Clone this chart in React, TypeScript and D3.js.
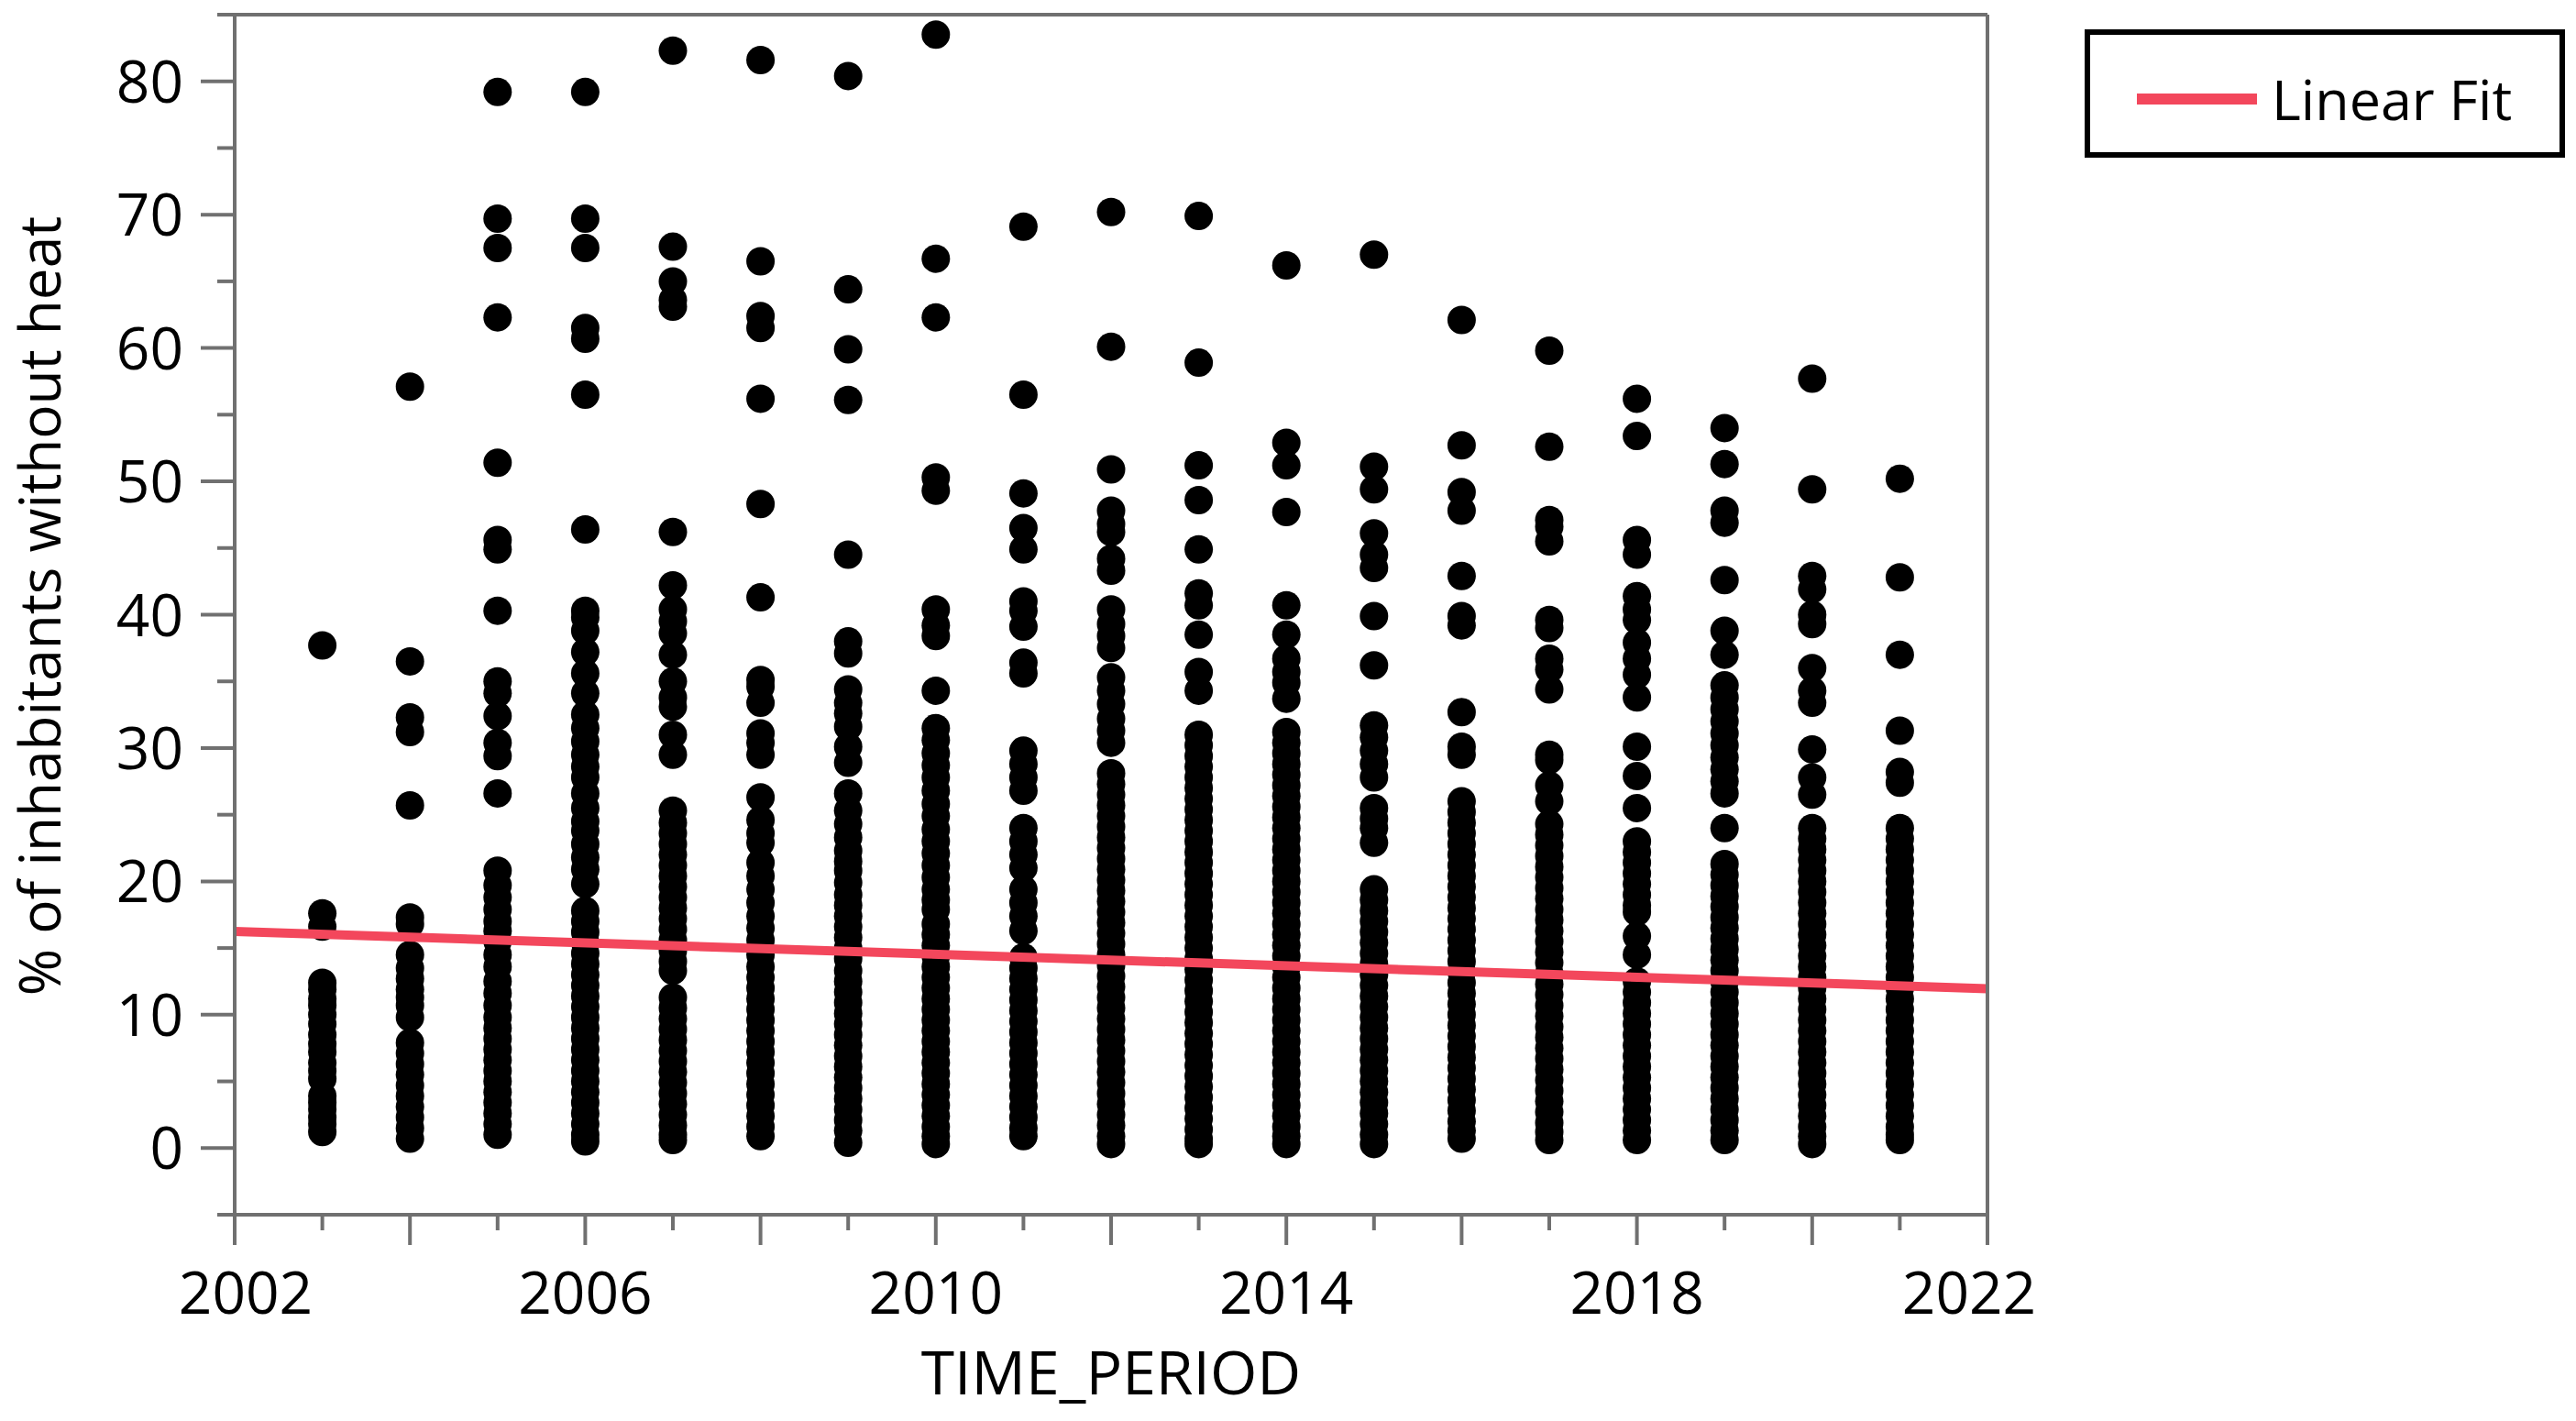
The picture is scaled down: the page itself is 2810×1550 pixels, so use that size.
import * as d3 from 'd3';

// values, one array per year (descending)
const y2003 = [37.7, 17.6, 16.6, 12.4, 11.9, 11.2, 10.7, 10.0, 9.3, 8.5, 7.8, 7.2, 6.4, 5.8, 5.2, 3.9, 3.4, 2.9, 2.3, 1.8, 1.2];
const y2004 = [57.1, 36.5, 32.3, 31.2, 25.7, 17.3, 16.8, 14.5, 13.5, 12.7, 11.9, 11.3, 10.7, 9.8, 7.9, 7.1, 6.3, 5.5, 4.7, 3.9, 3.1, 2.3, 1.5, 0.7];
const y2005 = [79.2, 69.7, 67.5, 62.3, 51.4, 45.6, 44.9, 40.3, 35.0, 34.1, 32.4, 30.4, 29.4, 26.6, 20.8, 19.7, 18.8, 17.9, 17.0, 16.3, 15.5, 14.5, 13.6, 12.5, 11.6, 10.7, 9.8, 9.0, 8.2, 7.4, 6.6, 5.8, 5.0, 4.2, 3.4, 2.6, 1.8, 1.0];
const y2006 = [79.2, 69.7, 67.5, 61.5, 60.7, 56.5, 46.4, 40.3, 39.8, 38.8, 37.2, 35.6, 34.1, 32.5, 31.5, 30.5, 29.5, 28.6, 27.8, 26.6, 25.5, 24.5, 23.8, 22.8, 21.8, 20.9, 19.8, 17.8, 17.0, 16.2, 15.4, 14.6, 13.8, 13.0, 12.2, 11.4, 10.6, 9.8, 9.0, 8.2, 7.4, 6.6, 5.8, 5.0, 4.2, 3.4, 2.6, 1.8, 1.0, 0.5];
const y2007 = [82.3, 67.6, 65.0, 63.6, 63.1, 46.2, 42.2, 40.4, 39.5, 38.6, 37.0, 35.0, 33.8, 33.1, 31.0, 29.5, 25.3, 24.4, 23.6, 22.8, 22.0, 21.2, 20.4, 19.6, 18.8, 18.0, 17.2, 16.4, 15.6, 14.8, 14.0, 13.3, 11.3, 10.5, 9.7, 8.9, 8.1, 7.3, 6.5, 5.7, 4.9, 4.1, 3.3, 2.5, 1.7, 1.0, 0.6];
const y2008 = [81.6, 66.5, 62.4, 61.5, 56.2, 48.3, 41.3, 35.1, 34.6, 33.4, 31.1, 30.4, 29.5, 26.3, 24.6, 23.6, 22.9, 21.4, 20.4, 19.4, 18.4, 17.4, 16.5, 15.6, 14.5, 13.6, 12.8, 12.0, 11.2, 10.4, 9.6, 8.8, 8.0, 7.2, 6.4, 5.6, 4.8, 4.0, 3.2, 2.4, 1.6, 0.9];
const y2009 = [80.4, 64.4, 59.9, 56.1, 44.5, 38.0, 37.1, 34.4, 33.4, 32.6, 31.6, 30.1, 28.9, 26.6, 25.3, 24.3, 23.3, 22.3, 21.5, 20.8, 19.9, 19.0, 18.2, 17.4, 16.6, 15.8, 15.0, 14.2, 13.3, 12.5, 11.7, 10.9, 10.1, 9.3, 8.5, 7.7, 6.9, 6.1, 5.3, 4.5, 3.7, 2.9, 2.1, 1.3, 0.4];
const y2010 = [83.5, 66.7, 62.3, 50.3, 49.3, 40.4, 39.2, 38.4, 34.3, 31.5, 30.6, 29.6, 28.7, 27.8, 26.8, 25.8, 24.9, 23.9, 23.0, 22.1, 21.2, 20.3, 19.4, 18.6, 17.9, 16.8, 16.0, 15.2, 14.4, 13.6, 12.8, 12.0, 11.2, 10.4, 9.6, 8.8, 8.0, 7.2, 6.4, 5.6, 4.8, 4.0, 3.2, 2.4, 1.6, 0.9, 0.3];
const y2011 = [69.1, 56.5, 49.1, 46.5, 44.9, 41.0, 40.3, 39.1, 36.4, 35.6, 29.8, 28.8, 27.8, 26.8, 24.0, 23.0, 22.0, 21.0, 19.4, 18.4, 17.4, 16.3, 14.3, 13.5, 12.7, 11.9, 11.1, 10.3, 9.5, 8.7, 7.9, 7.1, 6.3, 5.5, 4.7, 3.9, 3.1, 2.3, 1.5, 0.9];
const y2012 = [70.2, 60.1, 50.9, 47.8, 46.8, 46.2, 44.2, 43.3, 40.4, 39.3, 38.4, 37.5, 35.3, 34.3, 33.3, 32.2, 31.3, 30.4, 28.1, 27.3, 26.5, 25.7, 24.9, 24.1, 23.3, 22.5, 21.7, 20.9, 20.1, 19.3, 18.5, 17.7, 16.9, 16.1, 15.3, 14.5, 13.7, 12.9, 12.1, 11.3, 10.5, 9.7, 8.9, 8.1, 7.3, 6.5, 5.7, 4.9, 4.1, 3.3, 2.5, 1.7, 0.9, 0.3];
const y2013 = [69.9, 58.9, 51.2, 48.6, 44.9, 41.6, 40.7, 38.5, 35.7, 34.3, 31.0, 30.2, 29.4, 28.6, 27.8, 27.0, 26.2, 25.4, 24.6, 23.8, 23.0, 22.2, 21.4, 20.6, 19.8, 19.0, 18.2, 17.4, 16.6, 15.8, 15.0, 14.2, 13.4, 12.6, 11.8, 11.0, 10.2, 9.4, 8.6, 7.8, 7.0, 6.2, 5.4, 4.6, 3.8, 3.0, 2.2, 1.4, 0.7, 0.3];
const y2014 = [66.2, 52.9, 51.2, 47.7, 40.7, 38.5, 36.7, 35.7, 34.9, 33.7, 31.2, 30.4, 29.6, 28.8, 28.0, 27.2, 26.4, 25.6, 24.8, 24.0, 23.2, 22.4, 21.6, 20.8, 20.0, 19.2, 18.4, 17.6, 16.8, 16.0, 15.2, 14.4, 13.6, 12.8, 12.0, 11.2, 10.4, 9.6, 8.8, 8.0, 7.2, 6.4, 5.6, 4.8, 4.0, 3.2, 2.4, 1.6, 0.9, 0.3];
const y2015 = [67.0, 51.1, 49.4, 46.1, 44.5, 43.5, 39.9, 36.2, 31.7, 30.8, 29.8, 28.8, 27.8, 25.5, 24.7, 24.0, 22.9, 19.4, 18.6, 17.8, 17.0, 16.2, 15.4, 14.6, 13.8, 13.0, 12.2, 11.4, 10.6, 9.8, 9.0, 8.2, 7.4, 6.6, 5.8, 5.0, 4.2, 3.4, 2.6, 1.8, 1.0, 0.3];
const y2016 = [62.1, 52.7, 49.2, 47.8, 42.9, 39.9, 39.2, 32.7, 30.1, 29.5, 26.0, 25.2, 24.4, 23.6, 22.8, 22.0, 21.2, 20.4, 19.6, 18.8, 18.0, 17.2, 16.4, 15.6, 14.8, 14.0, 13.2, 12.4, 11.6, 10.8, 10.0, 9.2, 8.4, 7.6, 6.8, 6.0, 5.2, 4.4, 3.6, 2.8, 2.0, 1.3, 0.7];
const y2017 = [59.8, 52.6, 47.1, 46.6, 45.5, 39.6, 39.0, 36.7, 35.9, 34.4, 29.5, 29.1, 27.2, 26.0, 24.3, 23.5, 22.7, 21.9, 21.1, 20.3, 19.5, 18.7, 17.9, 17.1, 16.3, 15.5, 14.7, 13.9, 13.1, 12.3, 11.5, 10.7, 9.9, 9.1, 8.3, 7.5, 6.7, 5.9, 5.1, 4.3, 3.5, 2.7, 1.9, 1.2, 0.6];
const y2018 = [56.2, 53.4, 45.6, 44.5, 41.4, 40.4, 39.6, 37.9, 36.7, 35.5, 33.8, 30.1, 27.9, 25.5, 23.0, 22.2, 21.4, 20.6, 19.8, 19.0, 18.2, 17.7, 15.9, 14.5, 12.5, 11.7, 10.9, 10.1, 9.3, 8.5, 7.7, 6.9, 6.1, 5.3, 4.5, 3.7, 2.9, 2.1, 1.3, 0.6];
const y2019 = [54.0, 51.3, 47.8, 46.9, 42.6, 38.8, 37.0, 34.7, 33.8, 32.9, 32.0, 31.1, 30.2, 29.3, 28.4, 27.5, 26.6, 24.0, 21.3, 20.5, 19.7, 18.9, 18.1, 17.3, 16.5, 15.7, 14.9, 14.1, 13.3, 12.5, 11.7, 10.9, 10.1, 9.3, 8.5, 7.7, 6.9, 6.1, 5.3, 4.5, 3.7, 2.9, 2.1, 1.3, 0.6];
const y2020 = [57.7, 49.4, 42.9, 41.9, 40.0, 39.3, 36.0, 34.3, 33.4, 29.9, 27.8, 26.5, 24.0, 23.2, 22.4, 21.6, 20.8, 20.0, 19.2, 18.4, 17.6, 16.8, 16.0, 15.2, 14.4, 13.6, 12.8, 12.0, 11.2, 10.4, 9.6, 8.8, 8.0, 7.2, 6.4, 5.6, 4.8, 4.0, 3.2, 2.4, 1.6, 0.9, 0.3];
const y2021 = [50.2, 42.8, 37.0, 31.3, 28.2, 27.4, 24.0, 23.2, 22.4, 21.6, 20.8, 20.0, 19.2, 18.4, 17.6, 16.8, 16.0, 15.2, 14.4, 13.6, 12.8, 12.0, 11.2, 10.4, 9.6, 8.8, 8.0, 7.2, 6.4, 5.6, 4.8, 4.0, 3.2, 2.4, 1.6, 1.0, 0.6];

const years = [2003, 2004, 2005, 2006, 2007, 2008, 2009, 2010, 2011, 2012, 2013, 2014, 2015, 2016, 2017, 2018, 2019, 2020, 2021];
const byYear = [y2003, y2004, y2005, y2006, y2007, y2008, y2009, y2010, y2011, y2012, y2013, y2014, y2015, y2016, y2017, y2018, y2019, y2020, y2021];

// linear fit, read at the two ends of the x axis
const fitYears = [2002, 2022];
const fitValues = [16.25, 11.95];

const xLabelTicks = [2002, 2006, 2010, 2014, 2018, 2022];
const yLabelTicks = [0, 10, 20, 30, 40, 50, 60, 70, 80];

const W = 2810;
const H = 1550;
const M = { left: 256, right: 2168, top: 16, bottom: 1325 };
const FONT = "'Open Sans', 'Noto Sans', sans-serif";
const AXIS = '#707070';
const FIT = '#F3475C';

export default function App() {
  const x = d3.scaleLinear().domain([2002, 2022]).range([M.left, M.right]);
  const y = d3.scaleLinear().domain([-5, 85]).range([M.bottom, M.top]);

  const points = years.flatMap((yr, i) => byYear[i].map((v) => ({ yr, v })));
  const fitLine = d3
    .line<number>()
    .x((_, i) => x(fitYears[i]))
    .y((d) => y(d))(fitValues);

  const xMajor = d3.range(2002, 2023, 2);
  const xMinor = d3.range(2003, 2022, 2);
  const yMinor = d3.range(-5, 86, 10);

  // end labels are nudged inward, like the original
  const labelShift = (t: number) => (t === 2002 ? 12 : t === 2022 ? -20 : 0);

  return (
    <svg
      width={W}
      height={H}
      style={{ position: 'absolute', left: 0, top: 0, background: '#fff' }}
      fontFamily={FONT}
    >
      <rect width={W} height={H} fill='#fff' />

      {/* points */}
      <g fill='#000'>
        {points.map((p, i) => (
          <circle key={i} cx={x(p.yr)} cy={y(p.v)} r={15.5} />
        ))}
      </g>

      {/* fit */}
      <path d={fitLine ?? ''} fill='none' stroke={FIT} strokeWidth={10} />

      {/* frame + ticks */}
      <g stroke={AXIS} strokeWidth={4} fill='none'>
        <line x1={M.left} x2={M.left} y1={M.top} y2={M.bottom} />
        <line x1={M.right} x2={M.right} y1={M.top} y2={M.bottom} />
        <line x1={M.left} x2={M.right} y1={M.top} y2={M.top} />
        <line x1={M.left} x2={M.right} y1={M.bottom} y2={M.bottom} />
        {yLabelTicks.map((t) => (
          <line key={'ym' + t} x1={M.left - 37} x2={M.left} y1={y(t)} y2={y(t)} />
        ))}
        {yMinor.map((t) => (
          <line key={'yn' + t} x1={M.left - 19} x2={M.left} y1={y(t)} y2={y(t)} />
        ))}
        {xMajor.map((t) => (
          <line key={'xm' + t} x1={x(t)} x2={x(t)} y1={M.bottom} y2={M.bottom + 33} />
        ))}
        {xMinor.map((t) => (
          <line key={'xn' + t} x1={x(t)} x2={x(t)} y1={M.bottom} y2={M.bottom + 17} />
        ))}
      </g>

      {/* tick labels */}
      <g fontSize={64} fill='#000'>
        {yLabelTicks.map((t) => (
          <text key={'yl' + t} x={M.left - 56} y={y(t)} dy='0.36em' textAnchor='end'>
            {t}
          </text>
        ))}
        {xLabelTicks.map((t) => (
          <text key={'xl' + t} x={x(t) + labelShift(t)} y={1433} textAnchor='middle'>
            {t}
          </text>
        ))}
      </g>

      {/* axis titles */}
      <text x={(M.left + M.right) / 2} y={1521} fontSize={66} textAnchor='middle' fill='#000'>
        TIME_PERIOD
      </text>
      <text
        transform={`translate(66, 661) rotate(-90)`}
        fontSize={62}
        textAnchor='middle'
        fill='#000'
      >
        % of inhabitants without heat
      </text>

      {/* legend */}
      <rect x={2277} y={35} width={518} height={134} fill='#fff' stroke='#000' strokeWidth={6} />
      <line x1={2331} x2={2462} y1={108} y2={108} stroke={FIT} strokeWidth={12} />
      <text x={2478} y={131} fontSize={61} fill='#000'>
        Linear Fit
      </text>
    </svg>
  );
}
